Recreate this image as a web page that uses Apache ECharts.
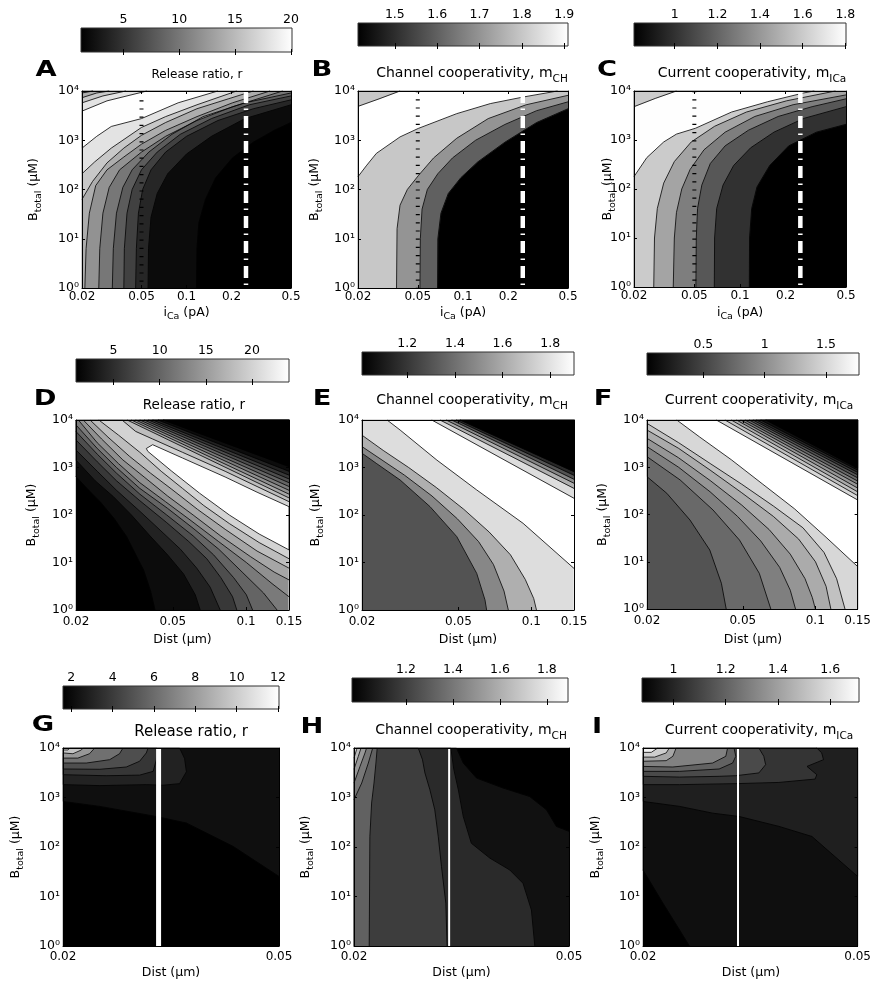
<!DOCTYPE html>
<html><head><meta charset="utf-8">
<script src="https://cdn.jsdelivr.net/npm/echarts@6/dist/echarts.min.js"></script>
<style>html,body{margin:0;padding:0;background:#fff}#c{width:874px;height:984px}</style>
</head><body><div id="c"></div>
<script>
// ================= DATA =================
const YR = [1, 10000];
const yTicks = [1, 10, 100, 1000, 10000];
const xRangeIca = [0.02, 0.5], xTicksIca = [0.02, 0.05, 0.1, 0.2, 0.5];
const xRangeDist = [0.02, 0.15], xTicksDist = [0.02, 0.05, 0.1, 0.15];
const xRangeNear = [0.02, 0.05], xTicksNear = [0.02, 0.05];

// colour bar ranges and tick labels
const cbA = [1.2, 20.1],  cbA_ticks = [5, 10, 15, 20];
const cbB = [1.413, 1.909], cbB_ticks = [1.5, 1.6, 1.7, 1.8, 1.9];
const cbC = [0.809, 1.803], cbC_ticks = [1, 1.2, 1.4, 1.6, 1.8];
const cbD = [0.95, 24.0], cbD_ticks = [5, 10, 15, 20];
const cbE = [1.01, 1.90], cbE_ticks = [1.2, 1.4, 1.6, 1.8];
const cbF = [0.04, 1.77], cbF_ticks = [0.5, 1, 1.5];
const cbG = [1.6, 12.05], cbG_ticks = [2, 4, 6, 8, 10, 12];
const cbH = [0.97, 1.89], cbH_ticks = [1.2, 1.4, 1.6, 1.8];
const cbI = [0.88, 1.71], cbI_ticks = [1, 1.2, 1.4, 1.6];

// contour levels: v = level of the region beyond the line, pts = [x, Btotal]
const A_bg = 1.2;
const A_contours = [
 {v:2, close:'tr,tl,bl', pts:[[0.1167,1],[0.1175,6.3],[0.121,21],[0.134,63],[0.157,174],[0.203,437],[0.28,912],[0.386,1585],[0.5,2291]]},
 {v:4, close:'tr,tl,bl', pts:[[0.0553,1],[0.0557,6.3],[0.0579,27.5],[0.0637,83],[0.0749,209],[0.1,525],[0.147,1202],[0.246,2754],[0.5,5248]]},
 {v:6, close:'tr,tl,bl', pts:[[0.0457,1],[0.0462,6.3],[0.0477,33],[0.0509,100],[0.0579,251],[0.0725,575],[0.1,1202],[0.162,2512],[0.28,4365],[0.5,6607]]},
 {v:8, close:'tr,tl,bl', pts:[[0.0381,1],[0.0384,6.3],[0.04,33],[0.0433,100],[0.05,251],[0.0637,575],[0.0908,1318],[0.147,2754],[0.263,5248],[0.5,7943]]},
 {v:10, close:'tr,tl,bl', pts:[[0.0319,1],[0.0324,6.3],[0.034,33],[0.0375,110],[0.0433,251],[0.056,575],[0.0798,1318],[0.129,3020],[0.246,5754],[0.5,9120]]},
 {v:12, close:'tr,tl,bl', pts:[[0.0259,1],[0.0263,6.3],[0.0276,33],[0.0304,110],[0.0357,251],[0.05,575],[0.0725,1202],[0.1175,2512],[0.203,4786],[0.44,10000]]},
 {v:14, close:'tr,tl,bl', pts:[[0.0209,1],[0.0213,6.3],[0.0224,33],[0.0247,120],[0.0294,251],[0.0381,457],[0.05,832],[0.0725,1585],[0.1175,3020],[0.203,5754],[0.362,10000]]},
 {v:16, close:'tr,tl,bl', pts:[[0.02,63],[0.0235,145],[0.0294,347],[0.0381,692],[0.05,1259],[0.0725,2291],[0.1175,4365],[0.19,6918],[0.28,10000]]},
 {v:18, close:'tr,tl,bl', pts:[[0.02,209],[0.0243,363],[0.0314,692],[0.05,1820],[0.0725,3020],[0.1175,5248],[0.2166,10000]]},
 {v:20, close:'tr,tl,bl', pts:[[0.02,692],[0.0251,1202],[0.0314,1905],[0.05,2754],[0.0879,5754],[0.162,10000]]},
 {v:18, close:'tl', pts:[[0.02,3908],[0.0294,6310],[0.0543,10000]]},
 {v:16, close:'tl', pts:[[0.02,5754],[0.0276,7943],[0.0393,10000]]},
 {v:14, close:'tl', pts:[[0.02,7311],[0.0251,9120],[0.0304,10000]]},
 {v:12, close:'tl', pts:[[0.02,9120],[0.0237,10000]]}
];
const B_bg = 1.413;
const B_contours = [
 {v:1.6, close:'tr,tl,bl', pts:[[0.0677,1],[0.068,10],[0.0713,33],[0.0798,83],[0.0968,174],[0.1253,363],[0.19,912],[0.309,2291],[0.5,4365]]},
 {v:1.7, close:'tr,tl,bl', pts:[[0.0517,1],[0.052,10],[0.0534,40],[0.0579,100],[0.068,209],[0.0851,437],[0.1213,1000],[0.19,2089],[0.309,3981],[0.5,6026]]},
 {v:1.8, close:'tr,tl,bl', pts:[[0.0361,1],[0.0364,16],[0.0381,48],[0.0426,100],[0.0504,191],[0.0637,437],[0.0908,1096],[0.1472,2754],[0.263,5248],[0.5,8166]]},
 {v:1.91, close:'tr,tl,bl', pts:[[0.02,182],[0.0227,302],[0.0265,541],[0.0381,1169],[0.0504,1738],[0.0908,3467],[0.152,5546],[0.254,7586],[0.426,10000]]},
 {v:1.8, close:'tl', pts:[[0.02,4875],[0.0276,6918],[0.0381,10000]]}
];
const C_bg = 0.809;
const C_contours = [
 {v:1.0, close:'tr,tl,bl', pts:[[0.1152,1],[0.1156,10],[0.1194,40],[0.1294,110],[0.157,302],[0.2097,759],[0.319,1445],[0.5,2089]]},
 {v:1.15, close:'tr,tl,bl', pts:[[0.0677,1],[0.068,10],[0.0702,40],[0.0773,120],[0.0908,302],[0.1175,692],[0.1674,1445],[0.263,2754],[0.5,4786]]},
 {v:1.3, close:'tr,tl,bl', pts:[[0.0512,1],[0.0515,10],[0.0525,40],[0.056,120],[0.0637,331],[0.0798,759],[0.1137,1585],[0.1785,3020],[0.299,4786],[0.5,6918]]},
 {v:1.45, close:'tr,tl,bl', pts:[[0.0363,1],[0.0369,10],[0.0381,33],[0.0413,100],[0.0469,251],[0.0579,631],[0.0798,1445],[0.1253,3020],[0.224,5248],[0.5,8318]]},
 {v:1.6, close:'tr,tl,bl', pts:[[0.027,1],[0.0273,10],[0.0285,40],[0.0314,132],[0.0369,363],[0.0477,912],[0.068,1905],[0.1101,3715],[0.203,6310],[0.426,10000]]},
 {v:1.8, close:'tr,tl,bl', pts:[[0.02,179],[0.0243,437],[0.0314,912],[0.0381,1318],[0.0509,1738],[0.0879,3715],[0.152,6026],[0.263,9120],[0.309,10000]]},
 {v:1.6, close:'tl', pts:[[0.02,4786],[0.0276,7047],[0.0381,10000]]}
];
const D_bg = 0.95;
const D_contours = [
 {v:2, close:'br,tr,tl', pts:[[0.02,643],[0.02256,331],[0.02512,191],[0.02874,83],[0.0323,35],[0.03588,12],[0.03788,7],[0.0405,2.5],[0.04224,1]]},
 {v:4, close:'br,tr,tl', pts:[[0.02,1432],[0.02398,525],[0.02852,242],[0.03378,100],[0.04034,36],[0.04756,14.5],[0.05532,5.75],[0.0618,2.09],[0.06474,1]]},
 {v:6, close:'br,tr,tl', pts:[[0.02,2333],[0.02446,832],[0.02934,331],[0.03658,120],[0.04432,48],[0.05368,19.1],[0.06268,7.6],[0.07116,3.02],[0.07824,1]]},
 {v:8, close:'br,tr,tl', pts:[[0.02,3802],[0.02446,1318],[0.02934,525],[0.03658,200],[0.04718,69],[0.05818,27.5],[0.06892,12],[0.07872,4.8],[0.08796,1.9],[0.09156,1]]},
 {v:10, close:'br,tr,tl', pts:[[0.02,5702],[0.02446,1905],[0.02934,759],[0.03658,275],[0.04718,100],[0.06058,36.3],[0.0735,14.5],[0.08884,4.8],[0.1002,2.09],[0.1063,1]]},
 {v:12, close:'br,tr,tl', pts:[[0.02,7870],[0.02446,2512],[0.02934,1000],[0.03658,363],[0.04756,138],[0.06058,52.5],[0.07714,19.1],[0.09628,6.3],[0.1178,2.29],[0.134,1]]},
 {v:14, close:'br,tr,tl', pts:[[0.02045,10000],[0.02446,3311],[0.02992,1202],[0.03658,479],[0.04662,191],[0.05938,76],[0.07714,27.5],[0.1002,10],[0.1277,3.6],[0.15,1.9]]},
 {v:16, close:'br,tr,tl', pts:[[0.02142,10000],[0.02548,3981],[0.03116,1445],[0.0381,631],[0.04756,251],[0.06058,100],[0.07872,36],[0.1044,13.2],[0.1303,6.3],[0.15,4.3]]},
 {v:18, close:'br,tr,tl', pts:[[0.02284,10000],[0.02706,4365],[0.0331,1738],[0.0405,759],[0.04952,347],[0.06306,132],[0.082,50],[0.1109,17.4],[0.15,7.6]]},
 {v:20, close:'br,tr,tl', pts:[[0.02482,10000],[0.02992,4786],[0.03658,2089],[0.04478,832],[0.05478,363],[0.067,158],[0.08532,66],[0.1131,26.3],[0.15,12]]},
 {v:24, close:'', pts:[[0.0389,2512],[0.0413,3020],[0.05478,1585],[0.082,631],[0.1109,302],[0.15,150],[0.15,18.4],[0.1131,39.8],[0.08532,100],[0.06436,288],[0.04952,832],[0.03944,2188]]},
 {v:18, close:'tr', pts:[[0.0309,10000],[0.03516,5754],[0.0413,3981],[0.05478,2089],[0.082,832],[0.1109,398],[0.15,191]]},
 {v:16, close:'tr', pts:[[0.03244,10000],[0.15,229]]},
 {v:14, close:'tr', pts:[[0.03378,10000],[0.15,275]]},
 {v:12, close:'tr', pts:[[0.03516,10000],[0.15,331]]},
 {v:10, close:'tr', pts:[[0.03658,10000],[0.15,398]]},
 {v:8, close:'tr', pts:[[0.0381,10000],[0.15,479]]},
 {v:6, close:'tr', pts:[[0.03968,10000],[0.15,575]]},
 {v:4, close:'tr', pts:[[0.0413,10000],[0.15,692]]},
 {v:2, close:'tr', pts:[[0.04344,10000],[0.15,832]]},
 {v:0.95, close:'tr', pts:[[0.0457,10000],[0.15,1047]]}
];
const E_bg = 1.3;
const E_contours = [
 {v:1.48, close:'br,tr,tl', pts:[[0.02,1995],[0.02302,1202],[0.02874,545],[0.03818,150],[0.04924,35],[0.0595,5.9],[0.06436,1.63],[0.06538,1]]},
 {v:1.62, close:'br,tr,tl', pts:[[0.02,2754],[0.0235,1585],[0.02992,692],[0.0389,251],[0.04952,83],[0.06058,27.5],[0.06974,9.1],[0.07714,2.5],[0.08034,1]]},
 {v:1.78, close:'br,tr,tl', pts:[[0.02,4786],[0.02446,2291],[0.03116,1000],[0.0405,380],[0.0526,132],[0.067,43.7],[0.082,14.5],[0.09438,4.4],[0.1023,1.74],[0.105,1]]},
 {v:1.9, close:'br,tr,tl', pts:[[0.02538,10000],[0.02874,6138],[0.04074,1432],[0.0595,337],[0.09248,66.7],[0.15,7.5]]},
 {v:1.78, close:'tr', pts:[[0.03882,10000],[0.15,225]]},
 {v:1.62, close:'tr', pts:[[0.04198,10000],[0.15,363]]},
 {v:1.48, close:'tr', pts:[[0.0445,10000],[0.15,466]]},
 {v:1.3, close:'tr', pts:[[0.04692,10000],[0.15,565]]},
 {v:1.15, close:'tr', pts:[[0.04892,10000],[0.15,685]]},
 {v:1.01, close:'tr', pts:[[0.05074,10000],[0.15,817]]}
];
const F_bg = 0.6;
const F_contours = [
 {v:0.75, close:'br,tr,tl', pts:[[0.02,631],[0.02417,281],[0.03016,76.6],[0.03646,17.7],[0.04074,3.5],[0.04266,1]]},
 {v:0.9, close:'br,tr,tl', pts:[[0.02,1675],[0.02744,540],[0.03758,125],[0.04844,28.8],[0.05854,5.7],[0.06538,1]]},
 {v:1.05, close:'br,tr,tl', pts:[[0.02,2729],[0.02706,1000],[0.03658,302],[0.04756,91],[0.05938,27.5],[0.07116,7.6],[0.07872,2.5],[0.0828,1]]},
 {v:1.2, close:'br,tr,tl', pts:[[0.02,4093],[0.02706,1585],[0.03658,525],[0.04952,158],[0.06436,47.9],[0.07872,14.5],[0.09064,4.4],[0.09726,1.74],[0.1001,1]]},
 {v:1.35, close:'br,tr,tl', pts:[[0.02,6138],[0.02706,2512],[0.03658,871],[0.04952,288],[0.067,91],[0.08532,30.2],[0.1002,10],[0.1109,3.02],[0.1161,1]]},
 {v:1.5, close:'br,tr,tl', pts:[[0.02,8472],[0.02706,3311],[0.03658,1202],[0.04952,437],[0.067,151],[0.08884,52.5],[0.1087,15.8],[0.1227,4.37],[0.1329,1]]},
 {v:1.77, close:'br,tr,tl', pts:[[0.02658,10000],[0.0331,4365],[0.04478,1445],[0.06058,437],[0.082,132],[0.1109,33],[0.15,7.9]]},
 {v:1.5, close:'tr', pts:[[0.03882,10000],[0.15,203]]},
 {v:1.35, close:'tr', pts:[[0.04216,10000],[0.15,251]]},
 {v:1.2, close:'tr', pts:[[0.04478,10000],[0.15,302]]},
 {v:1.05, close:'tr', pts:[[0.0471,10000],[0.15,363]]},
 {v:0.9, close:'tr', pts:[[0.04904,10000],[0.15,437]]},
 {v:0.75, close:'tr', pts:[[0.05104,10000],[0.15,511]]},
 {v:0.6, close:'tr', pts:[[0.05314,10000],[0.15,597]]},
 {v:0.45, close:'tr', pts:[[0.0551,10000],[0.15,692]]},
 {v:0.3, close:'tr', pts:[[0.05702,10000],[0.15,780]]},
 {v:0.15, close:'tr', pts:[[0.05938,10000],[0.15,871]]},
 {v:0.04, close:'tr', pts:[[0.0623,10000],[0.15,955]]}
];
const G_bg = 1.6;
const G_contours = [
 {v:2.2, close:'tr,tl', pts:[[0.02,832],[0.02338,661],[0.02972,413],[0.03376,305],[0.04114,103],[0.05,25.4]]},
 {v:3.0, close:'tl', pts:[[0.02,1820],[0.02338,1738],[0.02848,1820],[0.03058,1770],[0.0328,1905],[0.03376,3311],[0.0335,6138],[0.0328,10000]]},
 {v:3.8, close:'tl', pts:[[0.02,2884],[0.02402,2754],[0.02768,2831],[0.02932,3373],[0.02972,5808],[0.0298,10000]]},
 {v:4.8, close:'tl', pts:[[0.02,3767],[0.02338,3715],[0.02616,4130],[0.02768,5395],[0.02848,7943],[0.0287,10000]]},
 {v:6.2, close:'tl', pts:[[0.02,4966],[0.02208,4966],[0.02438,5808],[0.02542,7656],[0.0258,10000]]},
 {v:7.8, close:'tl', pts:[[0.02,6252],[0.0213,6252],[0.02238,7656],[0.02288,10000]]},
 {v:9.6, close:'tl', pts:[[0.02,7943],[0.02086,7656],[0.02162,9120],[0.02178,10000]]},
 {v:11, close:'tl', pts:[[0.02,9120],[0.02043,9120],[0.02058,10000]]}
];
const H_bg = 0.97;
const H_contours = [
 {v:1.03, close:'br,bl,tl', pts:[[0.03096,10000],[0.03186,4966],[0.03372,2466],[0.03774,1556],[0.04228,1047],[0.04542,565],[0.04738,261],[0.05,207]]},
 {v:1.12, close:'bl,tl', pts:[[0.03022,10000],[0.0306,3715],[0.0312,1432],[0.03186,413],[0.03298,119],[0.03568,59.7],[0.03884,34.4],[0.0411,18.5],[0.0426,5.35],[0.04322,1]]},
 {v:1.19, close:'bl,tl', pts:[[0.0263,10000],[0.02678,5808],[0.02706,3133],[0.02764,1432],[0.02822,565],[0.02864,163],[0.02904,40.2],[0.02958,7.31],[0.02974,1]]},
 {v:1.32, close:'bl,tl', pts:[[0.02208,10000],[0.02196,4966],[0.02178,1959],[0.02156,773],[0.0214,163],[0.02134,1]]},
 {v:1.4, close:'tl', pts:[[0.02,904],[0.02067,1959],[0.02126,4966],[0.02166,10000]]},
 {v:1.52, close:'tl', pts:[[0.02,1959],[0.02052,4246],[0.02096,7943],[0.0211,10000]]},
 {v:1.64, close:'tl', pts:[[0.02,3715],[0.02037,6792],[0.02061,10000]]},
 {v:1.77, close:'tl', pts:[[0.02,6252],[0.02022,9290],[0.02028,10000]]}
];
const I_bg = 0.88;
const I_contours = [
 {v:0.93, close:'br,tr,tl', pts:[[0.02,34.4],[0.02178,7.31],[0.02338,2.11],[0.02438,1]]},
 {v:0.98, close:'tr,tl', pts:[[0.02,832],[0.02338,661],[0.02692,483],[0.03016,413],[0.03572,261],[0.04114,163],[0.05,25.4]]},
 {v:1.05, close:'tl', pts:[[0.02,1820],[0.02338,1820],[0.02972,1905],[0.03572,2014],[0.0417,2355],[0.042,2884],[0.04028,4246],[0.04322,5808],[0.0429,7943],[0.042,10000]]},
 {v:1.12, close:'tl', pts:[[0.02,2679],[0.02338,2582],[0.02768,2679],[0.02972,2754],[0.0328,3133],[0.03376,4613],[0.0335,6792],[0.0328,10000]]},
 {v:1.2, close:'tl', pts:[[0.02,3373],[0.02338,3373],[0.02768,3767],[0.02932,4966],[0.02972,6792],[0.0295,10000]]},
 {v:1.3, close:'tl', pts:[[0.02,4246],[0.02272,4130],[0.02692,4966],[0.02848,6792],[0.0287,10000]]},
 {v:1.42, close:'tl', pts:[[0.02,5395],[0.02208,5546],[0.02272,6792],[0.02304,10000]]},
 {v:1.55, close:'tl', pts:[[0.02,6546],[0.02102,6546],[0.02208,7943],[0.02238,10000]]},
 {v:1.66, close:'tl', pts:[[0.02,8166],[0.02072,8166],[0.0213,10000]]}
];

// vertical reference lines [x, top of line in Btotal]
const A_refs = [{x:0.05, top:6500, kind:'dot'}, {x:0.25, top:10000, kind:'dashdot'}];
const B_refs = [{x:0.05, top:10000, kind:'dot'}, {x:0.25, top:10000, kind:'dashdot'}];
const C_refs = [{x:0.05, top:10000, kind:'dot'}, {x:0.25, top:10000, kind:'dashdot'}];
const G_refs = [{x:0.03, top:10000, kind:'thick'}];
const H_refs = [{x:0.03, top:10000, kind:'thin'}];
const I_refs = [{x:0.03, top:10000, kind:'thin'}];

// texts
const titleRelease = ['Release ratio, r', ''];
const titleChannel = ['Channel cooperativity, m', 'CH'];
const titleCurrent = ['Current cooperativity, m', 'ICa'];
const xlabIca = ['i', 'Ca', ' (pA)'];
const xlabDist = ['Dist (\u03bcm)', '', ''];
const ylab = ['B', 'total', ' (\u03bcM)'];

const PANELS = [
 {id:'A', title:titleRelease, cb:cbA, cbT:cbA_ticks, xr:xRangeIca, xt:xTicksIca, xl:xlabIca, bg:A_bg, cs:A_contours, refs:A_refs},
 {id:'B', title:titleChannel, cb:cbB, cbT:cbB_ticks, xr:xRangeIca, xt:xTicksIca, xl:xlabIca, bg:B_bg, cs:B_contours, refs:B_refs},
 {id:'C', title:titleCurrent, cb:cbC, cbT:cbC_ticks, xr:xRangeIca, xt:xTicksIca, xl:xlabIca, bg:C_bg, cs:C_contours, refs:C_refs},
 {id:'D', title:titleRelease, cb:cbD, cbT:cbD_ticks, xr:xRangeDist, xt:xTicksDist, xl:xlabDist, bg:D_bg, cs:D_contours, refs:[]},
 {id:'E', title:titleChannel, cb:cbE, cbT:cbE_ticks, xr:xRangeDist, xt:xTicksDist, xl:xlabDist, bg:E_bg, cs:E_contours, refs:[]},
 {id:'F', title:titleCurrent, cb:cbF, cbT:cbF_ticks, xr:xRangeDist, xt:xTicksDist, xl:xlabDist, bg:F_bg, cs:F_contours, refs:[]},
 {id:'G', title:titleRelease, cb:cbG, cbT:cbG_ticks, xr:xRangeNear, xt:xTicksNear, xl:xlabDist, bg:G_bg, cs:G_contours, refs:G_refs},
 {id:'H', title:titleChannel, cb:cbH, cbT:cbH_ticks, xr:xRangeNear, xt:xTicksNear, xl:xlabDist, bg:H_bg, cs:H_contours, refs:H_refs},
 {id:'I', title:titleCurrent, cb:cbI, cbT:cbI_ticks, xr:xRangeNear, xt:xTicksNear, xl:xlabDist, bg:I_bg, cs:I_contours, refs:I_refs}
];

// ================= LAYOUT / STYLE =================
const FONT = 'DejaVu Sans';
const LAYOUT = {
 A:{g:[82,91,209,197], cb:[81,28,211,24], letter:[46,70.5], title:[197,75,12], xl:[186.5,312], yl:[33,189.5], xm:3},
 B:{g:[358,91,210,197], cb:[358,23,210,23], letter:[322,71], title:[472,73,14], xl:[463,312], yl:[314,189.5], xm:3},
 C:{g:[634,91,212,196], cb:[634,23,212,23], letter:[607,70.5], title:[752,73,14], xl:[740,312], yl:[607,189], xm:3},
 D:{g:[76,420,213,190], cb:[76,359,213,23], letter:[45,400], title:[194,405,13.5], xl:[182.5,640], yl:[31,515], xm:6},
 E:{g:[362,420,212,190], cb:[362,352,212,23], letter:[322,400], title:[472,400,14], xl:[468,640], yl:[315,515], xm:6},
 F:{g:[647,420,212,189], cb:[647,353,212,22], letter:[603,400], title:[759,400,14], xl:[753,640], yl:[602,514.5], xm:6},
 G:{g:[63,748,216,198], cb:[63,686,216,23], letter:[43,725.5], title:[191,732,15], xl:[171,973], yl:[15,847], xm:5},
 H:{g:[354,748,215,198], cb:[352,678,216,24], letter:[312,727.5], title:[471,730,14], xl:[461.5,973], yl:[305,847], xm:5},
 I:{g:[643,748,216,198], cb:[642,678,217,24], letter:[597,727.5], title:[759,730,14], xl:[751,973], yl:[595,847], xm:5}
};
const REF_STYLE = {
 dot:{color:'#000', width:4, type:[1.2,7]},
 dashdot:{color:'#fff', width:4.5, type:[12,5.5,1.5,6]},
 thick:{color:'#fff', width:5, type:'solid'},
 thin:{color:'#fff', width:2, type:'solid'}
};
const SUP = ['\u2070','\u00b9','\u00b2','\u00b3','\u2074'];
const lg = Math.log10;
function grey(v, r){ let t=(v-r[0])/(r[1]-r[0]); t=Math.max(0,Math.min(1,t)); const c=Math.round(t*255); return 'rgb('+c+','+c+','+c+')'; }
function fmtX(v){ return String(Number(Math.pow(10,v).toPrecision(2))); }
function corner(k, xr){ return {tl:[xr[0],YR[1]], tr:[xr[1],YR[1]], bl:[xr[0],YR[0]], br:[xr[1],YR[0]]}[k]; }

const grids=[], xAxes=[], yAxes=[], series=[], graphics=[];

function richText(parts, size, subSize, pad){
  if (!parts[1]) return {text: parts[0], rich:null};
  return {text:'{n|'+parts[0]+'}{s|'+parts[1]+'}'+(parts[2]?'{n|'+parts[2]+'}':''),
    rich:{n:{fontSize:size, fontFamily:FONT, lineHeight:size+2, verticalAlign:'top', fill:'#000'},
          s:{fontSize:subSize, fontFamily:FONT, lineHeight:size+2, padding:[pad,0,0,0], verticalAlign:'top', fill:'#000'}}};
}
function addText(x, y, parts, size, subSize, pad, rot){
  const rt = richText(parts, size, subSize, pad);
  const st = {text:rt.text, fontSize:size, fontFamily:FONT, fill:'#000', align:'center', verticalAlign:'middle', textAlign:'center', textVerticalAlign:'middle'};
  if (rt.rich) st.rich = rt.rich;
  graphics.push({type:'text', x:x, y:y, rotation:rot||0, silent:true, z:100, style:st});
}

PANELS.forEach(P => {
  const L = LAYOUT[P.id];
  // ---- plot
  const gi = grids.length;
  grids.push({left:L.g[0], top:L.g[1], width:L.g[2], height:L.g[3]});
  const xmin = lg(P.xr[0]), xmax = lg(P.xr[1]);
  const xt = P.xt.map(lg);
  const axLine = {show:true, onZero:false, lineStyle:{color:'#000', width:1}};
  const tick = {show:true, inside:true, length:3, lineStyle:{color:'#000', width:1}};
  const xi = xAxes.length;
  xAxes.push({gridIndex:gi, type:'value', position:'bottom', min:xmin, max:xmax, z:10, axisLine:axLine, splitLine:{show:false},
    axisTick:Object.assign({customValues:xt}, tick),
    axisLabel:{show:true, customValues:xt, margin:L.xm, color:'#000', fontFamily:FONT, fontSize:12, formatter:fmtX}});
  xAxes.push({gridIndex:gi, type:'value', position:'top', min:xmin, max:xmax, z:10, axisLine:axLine, splitLine:{show:false},
    axisTick:Object.assign({customValues:xt}, tick), axisLabel:{show:false}});
  const yi = yAxes.length;
  yAxes.push({gridIndex:gi, type:'value', position:'left', min:0, max:4, interval:1, z:10, axisLine:axLine, splitLine:{show:false},
    axisTick:tick, axisLabel:{show:true, margin:3, color:'#000', fontFamily:FONT, fontSize:12.5, formatter:v=>'10'+SUP[Math.round(v)]}});
  yAxes.push({gridIndex:gi, type:'value', position:'right', min:0, max:4, interval:1, z:10, axisLine:axLine, splitLine:{show:false},
    axisTick:tick, axisLabel:{show:false}});

  const items = [{v:P.bg, poly:[[P.xr[0],YR[0]],[P.xr[1],YR[0]],[P.xr[1],YR[1]],[P.xr[0],YR[1]]]}].concat(
    P.cs.map(c => ({v:c.v, poly: c.pts.concat(c.close ? c.close.split(',').map(k=>corner(k,P.xr)) : [])})));
  series.push({type:'custom', xAxisIndex:xi, yAxisIndex:yi, z:2, silent:true, animation:false,
    data: items.map(()=>[xmin,0]),
    renderItem:(params, api) => {
      const it = items[params.dataIndex];
      const col = grey(it.v, P.cb);
      return {type:'polygon', shape:{points: it.poly.map(q=>api.coord([lg(q[0]), lg(q[1])]))},
        style:{fill:col, stroke:col, lineWidth:0.4}};
    }});
  series.push({type:'custom', xAxisIndex:xi, yAxisIndex:yi, z:3, silent:true, animation:false,
    data: P.cs.map(()=>[xmin,0]),
    renderItem:(params, api) => {
      const c = P.cs[params.dataIndex];
      const pts = c.pts.map(q=>api.coord([lg(q[0]), lg(q[1])]));
      return {type: c.close==='' ? 'polygon' : 'polyline', shape:{points:pts},
        style:{fill:'none', stroke:'#000', lineWidth:0.8}};
    }});
  P.refs.forEach(r => {
    series.push({type:'line', xAxisIndex:xi, yAxisIndex:yi, z:4, silent:true, animation:false, symbol:'none',
      data:[[lg(r.x), lg(r.top)], [lg(r.x), lg(YR[0])]], lineStyle:REF_STYLE[r.kind]});
  });

  // ---- colour bar
  const ci = grids.length;
  grids.push({left:L.cb[0], top:L.cb[1], width:L.cb[2], height:L.cb[3]});
  const cxi = xAxes.length;
  xAxes.push({gridIndex:ci, type:'value', position:'top', min:P.cb[0], max:P.cb[1], z:10, axisLine:{show:false}, splitLine:{show:false},
    axisTick:Object.assign({customValues:P.cbT}, tick),
    axisLabel:{show:true, customValues:P.cbT, margin:2, color:'#000', fontFamily:FONT, fontSize:12.5, formatter:v=>String(Number(v.toFixed(2)))}});
  xAxes.push({gridIndex:ci, type:'value', position:'bottom', min:P.cb[0], max:P.cb[1], z:10, axisLine:{show:false}, splitLine:{show:false},
    axisTick:Object.assign({customValues:P.cbT}, tick), axisLabel:{show:false}});
  const cyi = yAxes.length;
  yAxes.push({gridIndex:ci, type:'value', min:0, max:1, show:false});
  series.push({type:'custom', xAxisIndex:cxi, yAxisIndex:cyi, z:2, silent:true, animation:false, data:[[P.cb[0],0]],
    renderItem:(params, api) => {
      const a = api.coord([P.cb[0],1]), b = api.coord([P.cb[1],0]);
      return {type:'rect', shape:{x:a[0], y:a[1], width:b[0]-a[0], height:b[1]-a[1]},
        style:{fill:new echarts.graphic.LinearGradient(0,0,1,0,[{offset:0,color:'#000'},{offset:1,color:'#fff'}]), stroke:'#333', lineWidth:1}};
    }});

  // ---- texts
  graphics.push({type:'text', x:L.letter[0], y:L.letter[1], scaleX:1.3, silent:true, z:100,
    style:{text:P.id, fontSize:21, fontWeight:'bold', fontFamily:FONT, fill:'#000', align:'center', verticalAlign:'middle', textAlign:'center', textVerticalAlign:'middle'}});
  addText(L.title[0], L.title[1] + (P.title[1] ? 1 : 0), P.title, L.title[2], L.title[2]*0.75, 8, 0);
  addText(L.xl[0], L.xl[1] + (P.xl[1] ? 1 : 0), P.xl, 12.5, 9.5, 6, 0);
  addText(L.yl[0] + 1.2, L.yl[1], ylab, 12.5, 9.5, 7, Math.PI/2);
});

const chart = echarts.init(document.getElementById('c'), null, {renderer:'canvas', width:874, height:984});
chart.setOption({animation:false, backgroundColor:'#fff', textStyle:{fontFamily:FONT},
  grid:grids, xAxis:xAxes, yAxis:yAxes, series:series, graphic:{elements:graphics}});
</script></body></html>
